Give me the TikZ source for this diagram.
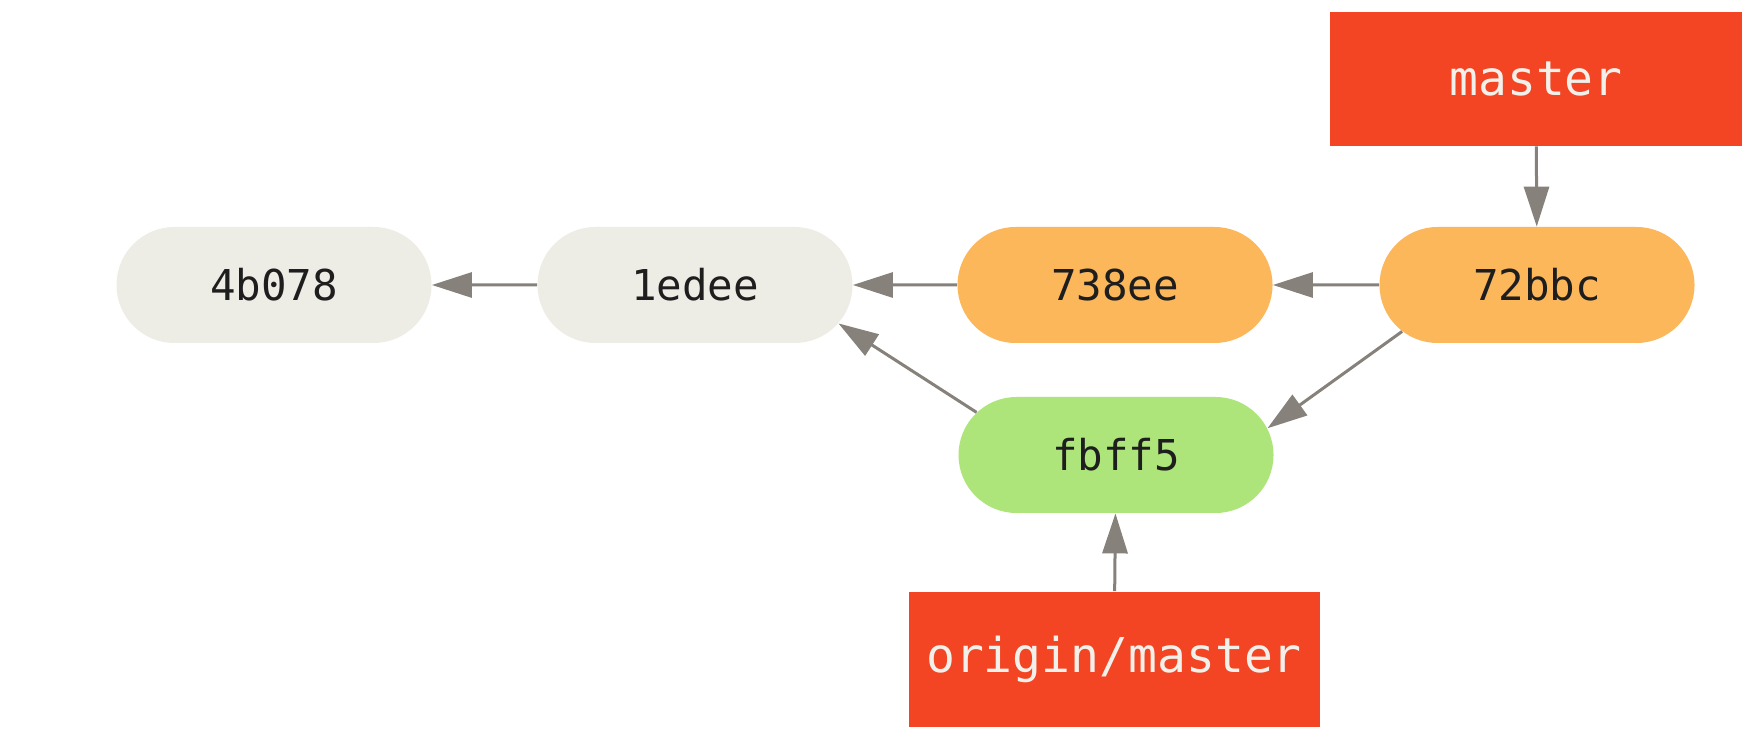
\documentclass[tikz,border=0pt]{standalone}
\usepackage{fontspec}
\usetikzlibrary{shapes.misc,arrows.meta}
\newfontfamily\gitmono{DejaVu Sans Mono}
\definecolor{refred}{RGB}{243,68,35}
\definecolor{commitgrey}{RGB}{237,236,229}
\definecolor{commitorange}{RGB}{251,183,90}
\definecolor{commitgreen}{RGB}{173,229,122}
\definecolor{edgegrey}{RGB}{134,129,122}
\definecolor{reftext}{RGB}{242,240,234}
\definecolor{committext}{RGB}{30,30,30}
\begin{document}
\begin{tikzpicture}[x=0.5pt,y=-0.5pt,
  commit/.style={rounded rectangle, rounded rectangle arc length=180,
    minimum width=157.5pt, minimum height=58pt, inner sep=0pt,
    text=committext, font=\gitmono\fontsize{21.25}{24}\selectfont},
  branchref/.style={rectangle, fill=refred, inner sep=0pt,
    text=reftext, font=\gitmono\fontsize{24}{28}\selectfont},
  parent/.style={draw=edgegrey, line width=1.5pt,
    -{Triangle[length=20pt,width=12.5pt]}}]
  \useasboundingbox (0,0) rectangle (1760,742);
  \fill[white] (0,0) rectangle (1760,742);

  % commits
  \node[commit, fill=commitgrey]   (c4b078) at (274,285)  {4b078};
  \node[commit, fill=commitgrey]   (c1edee) at (695,285)  {1edee};
  \node[commit, fill=commitorange] (c738ee) at (1115,285) {738ee};
  \node[commit, fill=commitorange] (c72bbc) at (1537,285) {72bbc};
  \node[commit, fill=commitgreen]  (cfbff5) at (1116,455) {fbff5};

  % branch references
  \node[branchref, minimum width=206pt, minimum height=67pt]
    (master) at (1536,79) {master};
  \node[branchref, minimum width=205.5pt, minimum height=67.5pt]
    (origin) at (1114,659) {origin/master};

  % parent links
  \draw[parent] (c1edee) -- (c4b078);
  \draw[parent] (c738ee) -- (c1edee);
  \draw[parent] (c72bbc) -- (c738ee);
  \draw[parent] (c72bbc.199) -- (cfbff5.10);
  \draw[parent] (cfbff5.163) -- (c1edee.345);

  % reference pointers
  \draw[parent] (master) -- (c72bbc);
  \draw[parent] (origin) -- (cfbff5);
\end{tikzpicture}
\end{document}
